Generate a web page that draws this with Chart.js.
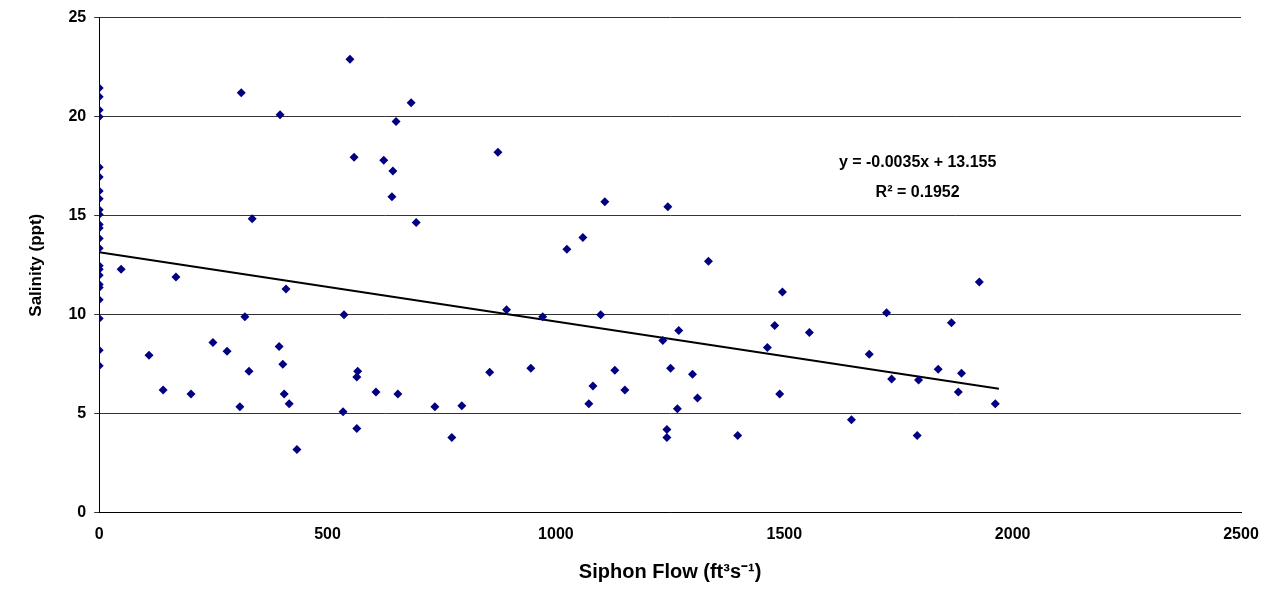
<!DOCTYPE html>
<html>
<head>
<meta charset="utf-8">
<script src="https://cdn.jsdelivr.net/npm/chart.js@4"></script>
<style>
  body { margin: 0; background: #fff; }
  #wrap { width: 1274px; height: 598px; }
</style>
</head>
<body>
<div id="wrap"><canvas id="chart"></canvas></div>
<script>
// siphon flow (ft3/s) and salinity (ppt)
const flowValues = [0,0,0,0,0,0,0,0,0,0,0,0,0,0,0,0,0,0,0,0,0,0,0,
  48,109,140,168,201,249,280,311,308,319,328,335,396,394,402,409,405,416,433,
  549,536,534,558,566,564,564,606,623,643,641,650,654,683,694,735,772,794,855,873,892,945,971,
  1024,1059,1072,1081,1098,1107,1129,1151,1234,1243,1243,1245,1251,1269,1266,1299,1310,1334,1398,
  1463,1479,1490,1496,1555,1647,1686,1724,1735,1794,1791,1837,1866,1881,1888,1927,1962];
const salinityValues = [21.44,21.0,20.34,20.0,17.45,16.95,16.24,15.85,15.3,15.06,14.55,14.38,13.85,13.35,12.47,12.29,11.99,11.53,11.37,10.76,9.81,8.21,7.43,
  12.3,7.95,6.2,11.9,6.0,8.6,8.15,21.2,5.35,9.9,7.15,14.85,20.1,8.4,7.5,11.3,6.0,5.5,3.2,
  22.9,10.0,5.1,17.95,7.15,6.85,4.25,6.1,17.8,17.25,15.95,19.75,6.0,20.7,14.65,5.35,3.8,5.4,7.1,18.2,10.25,7.3,9.9,
  13.3,13.9,5.5,6.4,10.0,15.7,7.2,6.2,8.7,4.2,3.8,15.45,7.3,9.2,5.25,7.0,5.8,12.7,3.9,
  8.35,9.45,6.0,11.15,9.1,4.7,8.0,10.1,6.75,6.7,3.9,7.25,9.6,6.1,7.05,11.65,5.5];
const trendSlope = -0.0035;
const trendIntercept = 13.155;
const trendX = [0, 1970];
const equationLines = ['y = -0.0035x + 13.155', 'R² = 0.1952'];

const points = flowValues.map((x, i) => ({ x: x, y: salinityValues[i] }));
const trend = trendX.map(x => ({ x: x, y: trendSlope * x + trendIntercept }));

const labelPlugin = {
  id: 'eqLabel',
  afterDatasetsDraw(chart) {
    const { ctx, scales } = chart;
    const px = scales.x.getPixelForValue(1792);
    const py = scales.y.getPixelForValue(17.7);
    ctx.save();
    ctx.font = 'bold 16px "Liberation Sans", Arial';
    ctx.fillStyle = '#000';
    ctx.textAlign = 'center';
    ctx.textBaseline = 'middle';
    ctx.fillText(equationLines[0], px, py);
    ctx.fillText(equationLines[1], px, py + 30);
    ctx.restore();
  }
};

const ctx = document.getElementById('chart').getContext('2d');
new Chart(ctx, {
  type: 'scatter',
  data: {
    datasets: [{
      data: points,
      pointStyle: 'rectRot',
      pointRadius: 4.5,
      backgroundColor: '#000080',
      borderColor: '#000080',
      borderWidth: 0
    }, {
      type: 'line',
      data: trend,
      borderColor: '#000',
      borderWidth: 2,
      pointRadius: 0,
      fill: false
    }]
  },
  plugins: [labelPlugin],
  options: {
    responsive: true,
    maintainAspectRatio: false,
    animation: false,
    layout: { padding: { top: 0, right: 33, left: 22, bottom: 10 } },
    plugins: { legend: { display: false }, tooltip: { enabled: false } },
    scales: {
      x: {
        type: 'linear', min: 0, max: 2500,
        ticks: { stepSize: 500, color: '#000', font: { family: '"Liberation Sans", Arial', size: 16, weight: 'bold' }, padding: 6,
          callback: v => String(v) },
        grid: { display: false, drawTicks: true, tickLength: 6 },
        border: { color: '#000', width: 1 },
        title: { display: true, text: 'Siphon Flow (ft³s⁻¹)', color: '#000', font: { family: '"Liberation Sans", Arial', size: 20, weight: 'bold' }, padding: { top: 10 } }
      },
      y: {
        min: 0, max: 25,
        ticks: { stepSize: 5, color: '#000', font: { family: '"Liberation Sans", Arial', size: 16, weight: 'bold' }, padding: 8 },
        grid: { color: '#333', lineWidth: 1, drawTicks: true, tickLength: 5 },
        border: { color: '#000', width: 1 },
        title: { display: true, text: 'Salinity (ppt)', color: '#000', font: { family: '"Liberation Sans", Arial', size: 17, weight: 'bold' }, padding: { bottom: 14 } }
      }
    }
  }
});
</script>
</body>
</html>
